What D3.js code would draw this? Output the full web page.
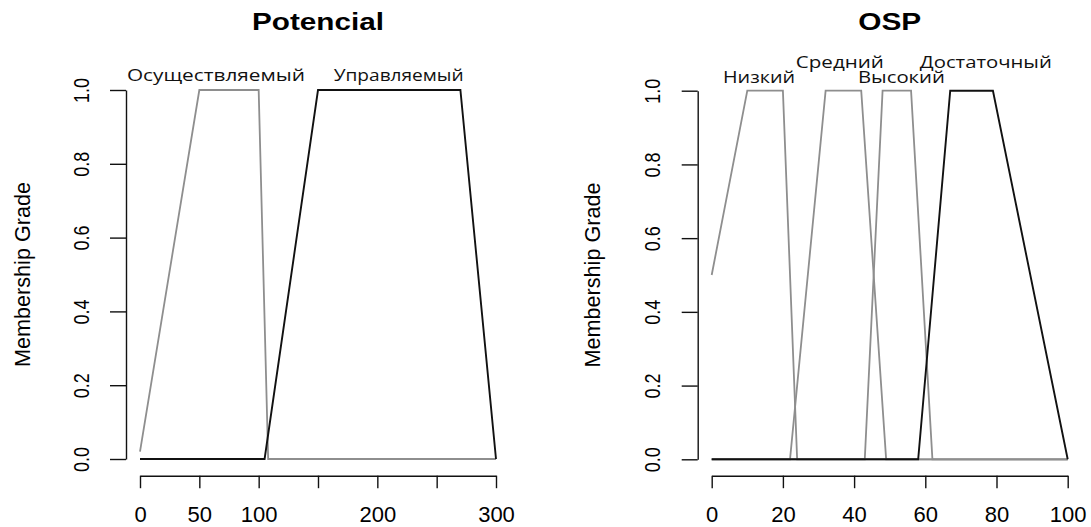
<!DOCTYPE html>
<html>
<head>
<meta charset="utf-8">
<script src="https://cdn.jsdelivr.net/npm/d3@7"></script>
<style>
  html, body { margin: 0; padding: 0; background: #fff; }
  svg { display: block; }
</style>
</head>
<body>
<svg id="chart" width="1091" height="527"></svg>
<script>
// ---- Potencial: membership functions (x in 0..300) ----
const potTitle = "Potencial";
const potXTicks = [0, 50, 100, 150, 200, 250, 300];
const potXTickLabels = ["0", "50", "100", "", "200", "", "300"];
const potSetNames = ["Осуществляемый", "Управляемый"];
const potSetX = [
  [0, 50, 100, 108, 300],
  [0, 105, 150, 270, 300]
];
const potSetY = [
  [0.02, 1, 1, 0, 0],
  [0, 0, 1, 1, 0]
];
const potSetColor = ["gray", "black"];

// ---- OSP: membership functions (x in 0..100) ----
const ospTitle = "OSP";
const ospXTicks = [0, 20, 40, 60, 80, 100];
const ospXTickLabels = ["0", "20", "40", "60", "80", "100"];
const ospSetNames = ["Низкий", "Средний", "Высокий", "Достаточный"];
const ospSetX = [
  [0, 10, 20, 24, 100],
  [0, 22, 32, 42, 49, 100],
  [0, 43, 48, 56, 62, 100],
  [0, 58, 67, 79, 100]
];
const ospSetY = [
  [0.5, 1, 1, 0, 0],
  [0, 0, 1, 1, 0, 0],
  [0, 0, 1, 1, 0, 0],
  [0, 0, 1, 1, 0]
];
const ospSetColor = ["gray", "gray", "gray", "black"];

const yTicks = [0, 0.2, 0.4, 0.6, 0.8, 1.0];
const yTickLabels = ["0.0", "0.2", "0.4", "0.6", "0.8", "1.0"];
const yAxisTitle = "Membership Grade";

const strokeOf = { gray: "#8e8e8e", black: "#111" };

const svg = d3.select("#chart");

function panel(cfg) {
  const x = d3.scaleLinear().domain(cfg.xDomain).range(cfg.xRange);
  const y = d3.scaleLinear().domain([0, 1]).range(cfg.yRange);
  const g = svg.append("g");

  // title
  g.append("text")
    .attr("x", (cfg.xRange[0] + cfg.xRange[1]) / 2)
    .attr("y", 30)
    .attr("text-anchor", "middle")
    .attr("font-family", "Liberation Sans, Arial, sans-serif")
    .attr("font-weight", "bold")
    .attr("font-size", 24)
    .attr("textLength", cfg.titleWidth)
    .attr("lengthAdjust", "spacingAndGlyphs")
    .attr("fill", "#000")
    .text(cfg.title);

  // x axis
  const xa = g.append("g")
    .attr("transform", `translate(0,${cfg.xAxisY})`)
    .call(d3.axisBottom(x)
      .tickValues(cfg.xTicks)
      .tickFormat((d, i) => cfg.xTickLabels[i])
      .tickSize(12.5)
      .tickSizeOuter(0));
  xa.select(".domain").attr("stroke", "#111").attr("stroke-width", 1.4);
  xa.selectAll(".tick line").attr("stroke", "#111").attr("stroke-width", 1.4);
  xa.selectAll(".tick text")
    .attr("y", 46).attr("dy", 0)
    .attr("fill", "#000")
    .attr("font-family", "Liberation Sans, Arial, sans-serif")
    .attr("font-size", 22);

  // y axis
  const ya = g.append("g")
    .attr("transform", `translate(${cfg.yAxisX},0)`)
    .call(d3.axisLeft(y)
      .tickValues(yTicks)
      .tickFormat((d, i) => yTickLabels[i])
      .tickSize(16)
      .tickSizeOuter(0));
  ya.select(".domain").attr("stroke", "#111").attr("stroke-width", 1.4);
  ya.selectAll(".tick line").attr("stroke", "#111").attr("stroke-width", 1.4);
  ya.selectAll(".tick text")
    .attr("x", 0).attr("dy", 0).attr("y", 0)
    .attr("text-anchor", "middle")
    .attr("transform", `translate(${cfg.yTickBaseX - cfg.yAxisX},0) rotate(-90)`)
    .attr("fill", "#000")
    .attr("font-family", "Liberation Sans, Arial, sans-serif")
    .attr("font-size", 22)
    .attr("textLength", d => 25)
    .attr("lengthAdjust", "spacingAndGlyphs");

  // y axis title
  g.append("text")
    .attr("transform", `translate(${cfg.yTitleX},${(cfg.yRange[0] + cfg.yRange[1]) / 2}) rotate(-90)`)
    .attr("text-anchor", "middle")
    .attr("font-family", "Liberation Sans, Arial, sans-serif")
    .attr("font-size", 22)
    .attr("textLength", 185)
    .attr("lengthAdjust", "spacingAndGlyphs")
    .attr("fill", "#000")
    .text(yAxisTitle);

  // membership functions: gray sets first, black on top
  const line = d3.line().x(d => x(d[0])).y(d => y(d[1]));
  const order = d3.range(cfg.setX.length)
    .sort((a, b) => (cfg.setColor[a] === "black") - (cfg.setColor[b] === "black"));
  order.forEach(i => {
    const pts = cfg.setX[i].map((v, k) => [v, cfg.setY[i][k]]);
    g.append("path")
      .attr("d", line(pts))
      .attr("fill", "none")
      .attr("stroke", strokeOf[cfg.setColor[i]])
      .attr("stroke-width", cfg.setColor[i] === "black" ? 1.9 : 1.8)
      .attr("stroke-linejoin", "miter");
  });

  // set names above the plateaus
  cfg.setNames.forEach((name, i) => {
    const lab = cfg.labels[i];
    g.append("text")
      .attr("x", x(lab.at))
      .attr("y", lab.baseline)
      .attr("text-anchor", "middle")
      .attr("font-family", "Open Sans, Noto Sans, sans-serif")
      .attr("font-size", 17)
      .attr("textLength", lab.width)
      .attr("lengthAdjust", "spacingAndGlyphs")
      .attr("fill", "#111")
      .text(name);
  });
}

panel({
  title: potTitle, titleWidth: 132,
  xDomain: [0, 300], xRange: [140, 496], yRange: [459, 90],
  xAxisY: 475.7, yAxisX: 126, yTickBaseX: 89, yTitleX: 30,
  xTicks: potXTicks, xTickLabels: potXTickLabels,
  setNames: potSetNames, setX: potSetX, setY: potSetY, setColor: potSetColor,
  labels: [
    { at: 64, baseline: 81, width: 178 },
    { at: 218, baseline: 81, width: 130 }
  ]
});

panel({
  title: ospTitle, titleWidth: 63,
  xDomain: [0, 100], xRange: [711.7, 1067.7], yRange: [459.3, 90.7],
  xAxisY: 475.7, yAxisX: 697.7, yTickBaseX: 660, yTitleX: 600,
  xTicks: ospXTicks, xTickLabels: ospXTickLabels,
  setNames: ospSetNames, setX: ospSetX, setY: ospSetY, setColor: ospSetColor,
  labels: [
    { at: 13.3, baseline: 83, width: 72 },
    { at: 36, baseline: 68, width: 88 },
    { at: 53.3, baseline: 83, width: 87 },
    { at: 77, baseline: 68, width: 132 }
  ]
});
</script>
</body>
</html>
